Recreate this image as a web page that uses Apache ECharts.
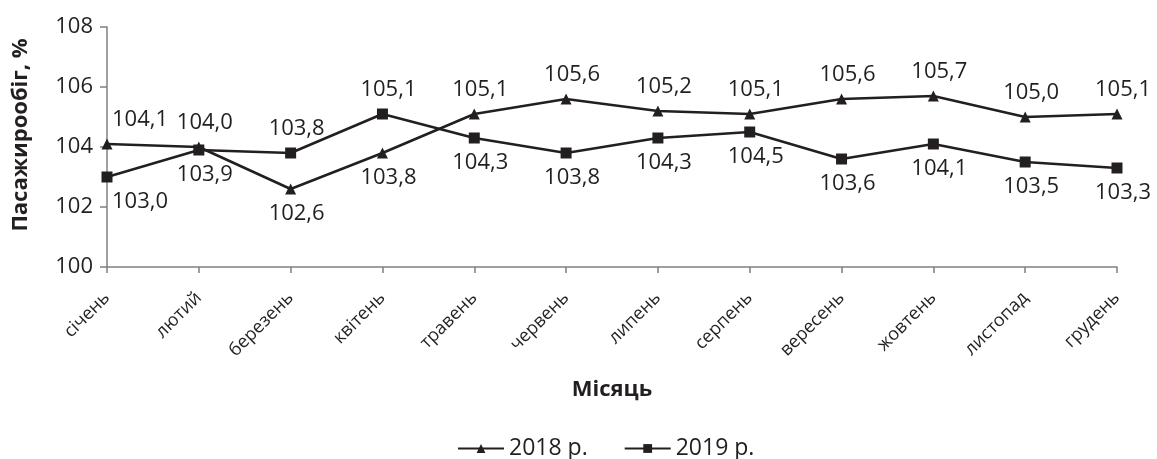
<!DOCTYPE html>
<html>
<head>
<meta charset="utf-8">
<script src="https://cdn.jsdelivr.net/npm/echarts@6/dist/echarts.min.js"></script>
<style>
  html, body { margin: 0; padding: 0; background: #fff; }
  #chart { width: 1157px; height: 459px; }
</style>
</head>
<body>
<div id="chart"></div>
<script>
const months = ['січень', 'лютий', 'березень', 'квітень', 'травень', 'червень',
  'липень', 'серпень', 'вересень', 'жовтень', 'листопад', 'грудень']
const values2018 = [104.1, 104.0, 102.6, 103.8, 105.1, 105.6, 105.2, 105.1, 105.6, 105.7, 105.0, 105.1]
const values2019 = [103.0, 103.9, 103.8, 105.1, 104.3, 103.8, 104.3, 104.5, 103.6, 104.1, 103.5, 103.3]
const yTicks = [100, 102, 104, 106, 108]

const ink = '#231f20'
const font = '"Open Sans", "Noto Sans", sans-serif'

// higher value of the pair gets its label above, lower one below
function makeData(own, other) {
  return own.map((v, i) => ({
    value: v,
    label: {
      position: v >= other[i] ? 'top' : 'bottom',
      offset: [i === 0 ? 33 : 6, 0]
    }
  }))
}

const chart = echarts.init(document.getElementById('chart'), null, { renderer: 'canvas' })

const seriesBase = {
  type: 'line',
  symbolSize: 11,
  lineStyle: { color: ink, width: 2.5 },
  itemStyle: { color: ink },
  label: {
    show: true,
    distance: 8,
    color: ink,
    fontFamily: font,
    fontSize: 22,
    formatter: p => p.value.toFixed(1).replace('.', ',')
  },
  emphasis: { disabled: true },
  animation: false
}

chart.setOption({
  backgroundColor: '#fff',
  textStyle: { fontFamily: font },
  grid: { left: 107, right: 40, top: 27, bottom: 192 },
  legend: {
    top: 432,
    left: 452,
    itemWidth: 46,
    itemHeight: 11,
    itemGap: 36,
    textStyle: { fontSize: 23, color: ink, fontFamily: font },
    data: ['2018 р.', '2019 р.']
  },
  xAxis: {
    type: 'category',
    data: months,
    boundaryGap: false,
    name: 'Місяць',
    nameLocation: 'middle',
    nameGap: 112,
    nameTextStyle: { fontSize: 22, fontWeight: 'bold', color: ink, fontFamily: font },
    axisLine: { lineStyle: { color: '#808080', width: 1.5 } },
    axisTick: { alignWithLabel: true, length: 6, lineStyle: { color: '#808080', width: 1.5 } },
    axisLabel: {
      rotate: 45,
      margin: 28,
      fontSize: 18,
      color: ink,
      fontFamily: font
    }
  },
  yAxis: {
    type: 'value',
    min: yTicks[0],
    max: yTicks[yTicks.length - 1],
    interval: 2,
    name: 'Пасажирообіг, %',
    nameLocation: 'middle',
    nameGap: 75,
    nameTextStyle: { fontSize: 22, fontWeight: 'bold', color: ink, fontFamily: font, padding: [0, 0, 0, 24] },
    axisLine: { show: true, lineStyle: { color: '#808080', width: 1.5 } },
    axisTick: { show: true, length: 7, lineStyle: { color: '#808080', width: 1.5 } },
    axisLabel: { fontSize: 22, color: ink, margin: 14, fontFamily: font },
    splitLine: { show: false }
  },
  series: [
    Object.assign({}, seriesBase, {
      name: '2018 р.',
      symbol: 'triangle',
      data: makeData(values2018, values2019)
    }),
    Object.assign({}, seriesBase, {
      name: '2019 р.',
      symbol: 'rect',
      data: makeData(values2019, values2018)
    })
  ]
})
</script>
</body>
</html>
